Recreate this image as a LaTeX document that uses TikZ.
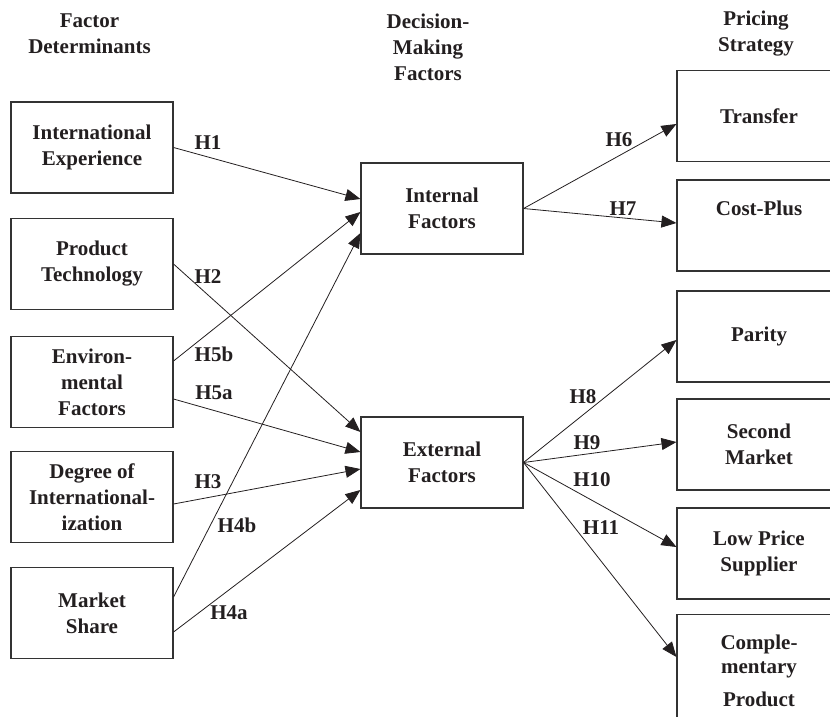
\documentclass[tikz,border=0pt]{standalone}
\usepackage{fontspec}
\setmainfont{Liberation Serif}
\usetikzlibrary{arrows.meta}
\definecolor{txt}{HTML}{231F20}
\definecolor{boxc}{HTML}{333333}
\begin{document}
\begin{tikzpicture}[x=1pt,y=-1pt,
  every node/.style={font=\fontsize{21}{26}\selectfont\bfseries, text=txt, align=center, inner sep=0pt},
  box/.style={draw=boxc, line width=1.1pt, minimum width=162pt, minimum height=91pt},
  rbox/.style={box, minimum width=164pt},
  arr/.style={-{Triangle[length=15pt,width=12pt]}, line width=0.8pt, draw=txt},
  lab/.style={}]
\clip (0,0) rectangle (830,716);
% headers
\node (hd1) at (89.5,34) {Factor\\Determinants};
\node (hd2) at (428,47) {Decision-\\Making\\Factors};
\node (hd3) at (756,34) {Pricing\\Strategy};
% left boxes
\node[box] (ie)  at (92,147.5) {International\\Experience};
\node[box] (pt)  at (92,264)   {Product\\Technology};
\node[box] (env) at (92,382)   {Environ-\\mental\\Factors};
\node[box] (deg) at (92,497)   {Degree of\\International-\\ization};
\node[box] (ms)  at (92,613)   {Market\\Share};
% middle boxes
\node[box] (int) at (442,208.5) {Internal\\Factors};
\node[box] (ext) at (442,462.5) {External\\Factors};
% right boxes
\node[rbox] (tr)  at (759,116)   {Transfer};
\node[rbox] (cp)  at (759,225.5) {Cost-Plus\\ \strut};
\node[rbox] (par) at (759,336.5) {Parity};
\node[rbox] (sm)  at (759,444.5) {Second\\Market};
\node[rbox] (lps) at (759,553.5) {Low Price\\Supplier};
\node[rbox, minimum height=130pt, anchor=north] (comp) at (759,614) {};
\node[font=\fontsize{21}{24}\selectfont\bfseries] (comptxt) at (759,671) {Comple-\\mentary\\[9pt]Product};
% connectors
\draw[arr] (ie.east) -- ([yshift=9.5pt]int.west);
\draw[arr] (pt.east) -- ([yshift=30.5pt]ext.west);
\draw[arr] ([yshift=21pt]env.east) -- ([yshift=-3.5pt]int.west);
\draw[arr] ([yshift=-17pt]env.east) -- ([yshift=10.5pt]ext.west);
\draw[arr] ([yshift=-7pt]deg.east) -- ([yshift=-6.5pt]ext.west);
\draw[arr] ([yshift=16pt]ms.east) -- ([yshift=-24.5pt]int.west);
\draw[arr] ([yshift=-19pt]ms.east) -- ([yshift=-27.5pt]ext.west);
\draw[arr] (int.east) -- ([yshift=-8pt]tr.west);
\draw[arr] (int.east) -- ([yshift=2.5pt]cp.west);
\draw[arr] (ext.east) -- ([yshift=-3.5pt]par.west);
\draw[arr] (ext.east) -- ([yshift=2.5pt]sm.west);
\draw[arr] (ext.east) -- ([yshift=6.5pt]lps.west);
\draw[arr] (ext.east) -- ([yshift=-43pt]comp.north west);
% labels
\node[lab] (h1)  at (208,143) {H1};
\node[lab] (h2)  at (208,277) {H2};
\node[lab] (h5b) at (214,354) {H5b};
\node[lab] (h5a) at (214,393) {H5a};
\node[lab] (h3)  at (208,482) {H3};
\node[lab] (h4b) at (237,525) {H4b};
\node[lab] (h4a) at (229,613) {H4a};
\node[lab] (h6)  at (619,140) {H6};
\node[lab] (h7)  at (623,209) {H7};
\node[lab] (h8)  at (583,397) {H8};
\node[lab] (h9)  at (587,443) {H9};
\node[lab] (h10) at (592,480) {H10};
\node[lab] (h11) at (601,528) {H11};
\end{tikzpicture}
\end{document}
